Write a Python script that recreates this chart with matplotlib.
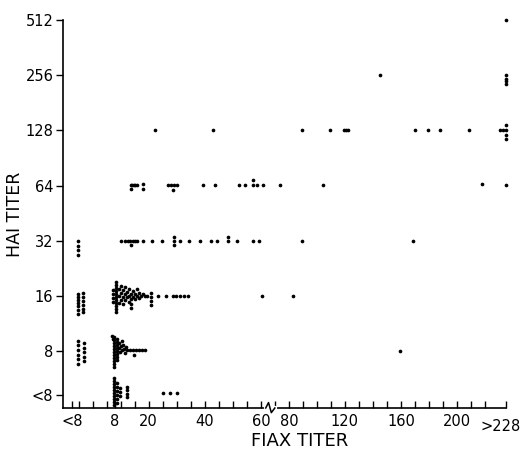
import numpy as np
import matplotlib
matplotlib.use("Agg")
import matplotlib.pyplot as plt
from matplotlib.transforms import ScaledTranslation

# FIAX titer (x) vs HAI titer (y).  y is given on a log2 scale (3 = 8, 4 = 16 ...),
# "<8" values sit just under the 8 row, ">228" values at the right end.
XLT = -7.4    # position of the "<8" FIAX category
XGT = 235.0   # position of the ">228" FIAX category
YLT = 2.21    # position of the "<8" HAI category

# --- HAI 512 / 256 ---
x_top = [235, 145, 235, 235, 235, 235]
y_top = [9.0, 8.01, 8.01, 7.94, 7.89, 7.85]

# --- HAI 128 ---
x_128 = [22.3, 43.0, 89.6, 109.6, 119.6, 121.0, 122.4, 170.2, 179.6, 188.2, 208.8,
         231, 233, 235, 235, 235, 235]
y_128 = [7.0] * 14 + [7.10, 6.92, 6.85]

# --- HAI 64 ---
x_64 = [13.6, 14.1, 14.6, 15.1, 15.9, 13.7, 18.0, 18.0, 26.9, 28.0, 29.1, 30.1, 28.7,
        39.3, 43.7, 52.3, 54.3, 57.3, 57.3, 58.7, 61.5, 73.8, 104.5, 218, 235]
y_64 = [6.01, 6.01, 6.01, 6.01, 6.01, 5.94, 6.03, 5.94, 6.01, 6.01, 6.01, 6.01, 5.93,
        6.01, 6.01, 6.01, 6.01, 6.01, 6.11, 6.01, 6.01, 6.02, 6.01, 6.03, 6.02]

# --- HAI 32 ---
x_32 = [-5.3, -5.3, -5.3, -5.3,
        10.0, 11.6, 12.5, 13.4, 14.3, 15.1, 15.75, 13.7, 17.9, 21.2, 24.8,
        29.1, 29.1, 29.1, 31.2, 34.3, 38.4, 42.3, 44.4, 48.2, 48.2, 51.5, 57.3, 59.3,
        89.6, 168.8]
y_32 = [5.0, 4.91, 4.84, 4.75,
        5.0, 5.0, 5.0, 5.0, 5.0, 5.0, 5.0, 4.93, 5.0, 5.0, 5.0,
        5.07, 5.0, 4.93, 5.0, 5.0, 5.0, 5.0, 5.0, 5.07, 5.0, 5.0, 5.0, 5.0,
        5.0, 5.0]

# --- HAI 16 ---
x_16 = ([-5.3] * 7 + [-3.4] * 6 + [8.4] * 11 + [7.3] * 4 +
        [9.4, 9.4, 9.4, 10.1, 10.1, 10.1, 10.9, 10.9, 10.9, 11.6, 11.6, 11.6, 12.3, 12.3,
         13.0, 13.0, 13.0, 13.7, 13.7, 13.7, 13.7, 14.4, 14.4, 15.1, 15.1, 15.9, 15.9,
         16.6, 16.6, 17.3, 18.0, 18.7, 19.4, 20.9, 20.9, 20.9, 20.9,
         23.4, 26.2, 28.7, 29.8, 31.2, 32.6, 34.1, 61.0, 83.2])
y_16 = ([4.04, 3.99, 3.93, 3.88, 3.82, 3.75, 3.68] +
        [4.06, 3.99, 3.91, 3.84, 3.77, 3.72] +
        [4.26, 4.20, 4.15, 4.10, 4.04, 3.99, 3.93, 3.88, 3.82, 3.77, 3.72] +
        [4.11, 4.04, 3.97, 3.90] +
        [4.13, 4.01, 3.88, 4.19, 4.06, 3.93, 4.11, 3.99, 3.86, 4.17, 4.04, 3.93, 4.08, 3.99,
         4.13, 4.01, 3.90, 4.04, 3.95, 3.86, 3.79, 4.10, 3.99, 4.04, 3.95, 4.13, 4.01,
         4.06, 3.97, 4.01, 4.04, 4.01, 4.01, 4.06, 3.99, 3.91, 3.84,
         4.01, 4.01, 4.01, 4.01, 4.01, 4.01, 4.01, 4.01, 4.01])

# --- HAI 8 ---
x_8 = ([-5.3] * 6 + [-3.0] * 5 + [7.6] * 11 + [8.7] * 8 +
       [6.9, 7.3, 9.4, 9.4, 9.8, 10.1, 10.5, 10.5, 10.9, 11.2, 11.6, 11.9, 12.3,
        13.4, 14.4, 14.8, 15.5, 16.6, 17.6, 18.7, 159.6])
y_8 = ([3.19, 3.12, 3.03, 2.94, 2.86, 2.77] +
       [3.15, 3.06, 2.99, 2.90, 2.83] +
       [3.26, 3.21, 3.15, 3.10, 3.05, 2.99, 2.94, 2.88, 2.83, 2.77, 2.72] +
       [3.23, 3.17, 3.12, 3.06, 3.01, 2.95, 2.90, 2.85] +
       [3.28, 3.23, 3.15, 3.06, 2.99, 3.10, 3.19, 3.03, 3.12, 3.05, 2.97, 3.08, 3.03,
        3.03, 3.03, 2.94, 3.03, 3.03, 3.03, 3.03, 3.01])

# --- HAI <8 ---
x_lt8 = [7.6] * 10 + [8.7] * 6 + [9.8] * 3 + [12.3] * 4 + [25.1, 27.6, 30.1]
y_lt8 = ([2.52, 2.47, 2.41, 2.36, 2.30, 2.25, 2.19, 2.14, 2.09, 2.03] +
         [2.43, 2.36, 2.28, 2.21, 2.14, 2.07] +
         [2.34, 2.27, 2.19] +
         [2.36, 2.30, 2.23, 2.18] +
         [2.25, 2.25, 2.25])

xtick_pos = [XLT, 8, 20, 40, 60, 80, 120, 160, 200, XGT]
xtick_lab = ["<8", "8", "20", "40", "60", "80", "120", "160", "200", ">228"]
ytick_pos = [YLT, 3, 4, 5, 6, 7, 8, 9]
ytick_lab = ["<8", "8", "16", "32", "64", "128", "256", "512"]


# axis is linear up to 60, half scale after the break
def fwd(t):
    t = np.asarray(t, dtype=float)
    return np.where(t <= 60, t, 60 + (t - 60) / 2.0)


def inv(u):
    u = np.asarray(u, dtype=float)
    return np.where(u <= 60, u, 60 + 2.0 * (u - 60))


plt.rcParams['font.family'] = ['DejaVu Sans']

fig = plt.figure(figsize=(5.21, 4.53), dpi=100)
ax = fig.add_axes([63 / 521, 1 - 408 / 453, (506 - 63) / 521, (408 - 20) / 453])
ax.set_xscale('function', functions=(fwd, inv))

for xs, ys in [(x_top, y_top), (x_128, y_128), (x_64, y_64), (x_32, y_32),
               (x_16, y_16), (x_8, y_8), (x_lt8, y_lt8)]:
    ax.scatter(xs, ys, s=7, c="black", linewidths=0, clip_on=False, zorder=3)

ax.set_xlim(-10.6, XGT)
ax.set_ylim(1.976, 9.0)

for s in ["top", "right"]:
    ax.spines[s].set_visible(False)
for s in ["left", "bottom"]:
    ax.spines[s].set_linewidth(1.2)

ax.set_xticks(xtick_pos)
ax.set_xticklabels(xtick_lab, fontsize=10.5)
minor = list(range(-5, 60, 5)) + list(range(70, 230, 10))
minor = [m for m in minor if m not in (20, 40, 80, 120, 160, 200)]
ax.set_xticks(minor, minor=True)
ax.tick_params(axis="x", which="both", direction="in", length=5, width=1.0, pad=4)

ax.set_yticks(ytick_pos)
ax.set_yticklabels(ytick_lab, fontsize=10.5)
ax.tick_params(axis="y", direction="out", length=5, width=1.0, pad=2)

# last x tick crosses the axis, its label sits lower and a bit left
last = ax.xaxis.get_major_ticks()[-1]
last.tick1line.set_marker("|")
last.tick1line.set_markersize(9)
last.set_pad(8)
shift = ScaledTranslation(-4 / 72, 0, fig.dpi_scale_trans)
last.label1.set_transform(last.label1.get_transform() + shift)

# axis break between 60 and 80
tr = ax.get_xaxis_transform()
ax.plot([63.5, 70], [0, 0], color="white", lw=3, transform=tr, clip_on=False, zorder=4)
ax.plot([63.5, 65.5, 67.5, 70], [0, 0.014, -0.012, 0], color="black", lw=1.1,
        transform=tr, clip_on=False, zorder=5)

ax.set_xlabel("FIAX TITER", fontsize=13)
ax.xaxis.set_label_coords(0.535, -0.062)
ax.set_ylabel("HAI TITER", fontsize=12.5)
ax.yaxis.set_label_coords(-0.088, 0.5)

fig.savefig("out.png", dpi=100)
